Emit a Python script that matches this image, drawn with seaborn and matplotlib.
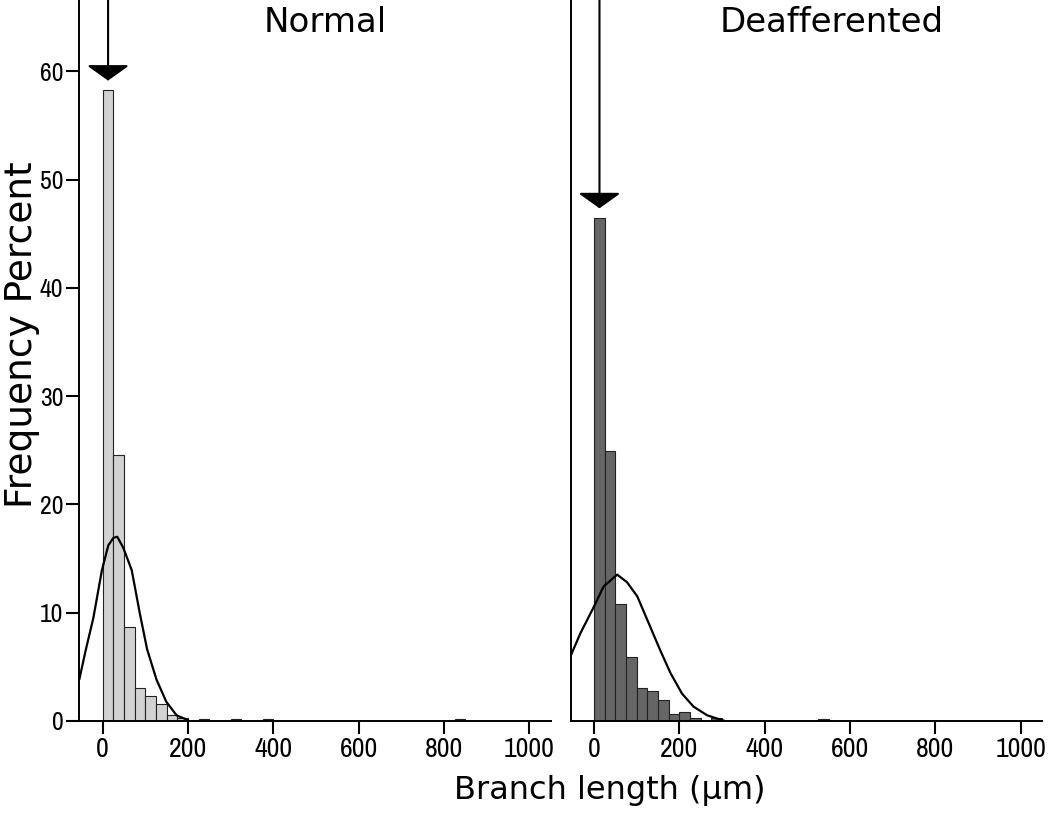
import numpy as np
import matplotlib
matplotlib.use('Agg')
import matplotlib.pyplot as plt
from matplotlib import font_manager
import seaborn as sns

# histogram bins (start of each 25 um bin) and percent of branches
bin_width = 25
normal_bins = [0, 25, 50, 75, 100, 125, 150, 175, 225, 300, 375, 825]
normal_pct = [58.3, 24.6, 8.7, 3.0, 2.3, 1.5, 0.5, 0.25, 0.2, 0.2, 0.2, 0.2]

deaff_bins = [0, 25, 50, 75, 100, 125, 150, 175, 200, 225, 275, 525]
deaff_pct = [46.5, 24.9, 10.75, 5.9, 3.0, 2.75, 1.9, 0.6, 0.85, 0.25, 0.25, 0.2]

# fitted curves
normal_curve_x = [-55, -40, -22, -2, 13, 25, 34, 48, 68, 87, 104, 126, 149, 173, 200]
normal_curve_y = [3.8, 6.5, 9.5, 13.9, 16.2, 16.9, 17.0, 16.0, 13.9, 9.9, 6.6, 3.8, 1.75, 0.5, 0.05]

deaff_curve_x = [-55, -32, -1, 22, 54, 77, 101, 128, 155, 179, 206, 233, 265, 296, 305]
deaff_curve_y = [6.0, 8.1, 10.5, 12.4, 13.5, 12.8, 11.5, 9.0, 6.5, 4.4, 2.5, 1.3, 0.5, 0.1, 0.0]

x_ticks = [0, 200, 400, 600, 800, 1000]
y_ticks = [0, 10, 20, 30, 40, 50, 60]

sns.set_style('ticks')
plt.rcParams['font.family'] = ['DejaVu Sans']
plt.rcParams['text.color'] = 'black'
plt.rcParams['xtick.color'] = 'black'
plt.rcParams['ytick.color'] = 'black'
plt.rcParams['axes.edgecolor'] = 'black'

# tick labels in the original are a condensed sans; use one if there is one
names = sorted({f.name for f in font_manager.fontManager.ttflist})
narrow_names = [n for n in names if 'Narrow' in n or 'Condensed' in n]
if narrow_names:
    tick_font = [narrow_names[0], 'DejaVu Sans']
    xtick_size, ytick_size = 20, 18.5
else:
    tick_font = ['Liberation Sans', 'DejaVu Sans']
    xtick_size, ytick_size = 17.5, 16.5

fig = plt.figure(figsize=(10.5, 8.13), dpi=100)
ax1 = fig.add_axes([0.0755, 0.1135, 0.449, 0.8865])
ax2 = fig.add_axes([0.5435, 0.1135, 0.449, 0.8865])


def panel(ax, bins, pct, cx, cy, fill, title, title_x):
    centers = np.array(bins) + bin_width / 2
    sns.histplot(x=centers, weights=pct, binwidth=bin_width,
                 binrange=(0, max(bins) + bin_width), stat='count',
                 color=fill, edgecolor='#222222', linewidth=0.8, alpha=1,
                 ax=ax)
    sns.lineplot(x=cx, y=cy, color='black', lw=1.6, sort=True, ax=ax)
    ax.set_xlim(-55, 1050)
    ax.set_ylim(0, 66.6)
    ax.set_xticks(x_ticks)
    ax.set_yticks(y_ticks)
    ax.set_xlabel('')
    ax.set_ylabel('')
    for s in ['top', 'right']:
        ax.spines[s].set_visible(False)
    for s in ['left', 'bottom']:
        ax.spines[s].set_linewidth(1.4)
    ax.tick_params(axis='both', direction='out', length=9.5, width=1.5, pad=2)
    for lab in ax.get_xticklabels():
        lab.set_family(tick_font)
        lab.set_fontsize(xtick_size)
    for lab in ax.get_yticklabels():
        lab.set_family(tick_font)
        lab.set_fontsize(ytick_size)
    # arrow marking the modal bin
    i = int(np.argmax(pct))
    ax.annotate('', xy=(centers[i], pct[i] + 0.85), xytext=(centers[i], 67),
                xycoords='data', textcoords='data', annotation_clip=False,
                arrowprops=dict(arrowstyle='-|>,head_length=0.95,head_width=1.33',
                                mutation_scale=10, lw=1.5, color='black',
                                shrinkA=0, shrinkB=0))
    ax.text(title_x, 1 - 22 / 720.7, title, transform=ax.transAxes,
            ha='center', va='center', fontsize=24.5)


panel(ax1, normal_bins, normal_pct, normal_curve_x, normal_curve_y,
      '#d2d2d2', 'Normal', 0.521)
panel(ax2, deaff_bins, deaff_pct, deaff_curve_x, deaff_curve_y,
      '#666666', 'Deafferented', 0.554)
ax2.tick_params(axis='y', left=False, labelleft=False)

fig.text(0.0205, 1 - 335 / 813, 'Frequency Percent', rotation=90,
         ha='center', va='center', fontsize=27)
fig.text(610 / 1050, 1 - 790 / 813, 'Branch length (µm)',
         ha='center', va='center', fontsize=23)

fig.savefig('out.png', dpi=100)
